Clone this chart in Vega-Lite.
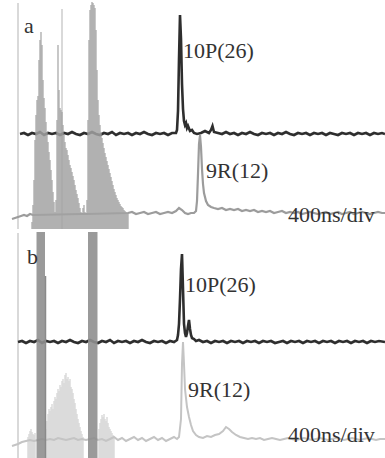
{
  "$schema": "https://vega.github.io/schema/vega-lite/v6.json",
  "background": "white",
  "padding": 0,
  "spacing": 0,
  "config": {"view": {"stroke": null}, "concat": {"spacing": 0}},
  "datasets": {
    "dark": [
      {"panel":"a","t":200,"v":95},{"panel":"a","t":240,"v":96},{"panel":"a","t":280,"v":94},{"panel":"a","t":320,"v":96},{"panel":"a","t":360,"v":95},{"panel":"a","t":400,"v":97},{"panel":"a","t":440,"v":94},{"panel":"a","t":480,"v":96},{"panel":"a","t":520,"v":95},{"panel":"a","t":560,"v":96},{"panel":"a","t":600,"v":94},{"panel":"a","t":640,"v":96},{"panel":"a","t":680,"v":95},{"panel":"a","t":720,"v":97},{"panel":"a","t":760,"v":95},{"panel":"a","t":800,"v":94},{"panel":"a","t":840,"v":96},{"panel":"a","t":880,"v":95},{"panel":"a","t":920,"v":97},{"panel":"a","t":960,"v":95},{"panel":"a","t":1000,"v":94},{"panel":"a","t":1040,"v":96},{"panel":"a","t":1080,"v":95},{"panel":"a","t":1120,"v":97},{"panel":"a","t":1160,"v":94},{"panel":"a","t":1200,"v":96},{"panel":"a","t":1240,"v":95},{"panel":"a","t":1280,"v":96},{"panel":"a","t":1320,"v":94},{"panel":"a","t":1360,"v":96},{"panel":"a","t":1400,"v":95},{"panel":"a","t":1440,"v":97},{"panel":"a","t":1480,"v":95},{"panel":"a","t":1520,"v":94},{"panel":"a","t":1560,"v":96},{"panel":"a","t":1600,"v":95},{"panel":"a","t":1640,"v":96},{"panel":"a","t":1680,"v":94},{"panel":"a","t":1720,"v":96},{"panel":"a","t":1760,"v":96},{"panel":"a","t":1770,"v":99},{"panel":"a","t":1780,"v":118},{"panel":"a","t":1790,"v":170},{"panel":"a","t":1800,"v":214},{"panel":"a","t":1810,"v":190},{"panel":"a","t":1820,"v":145},{"panel":"a","t":1830,"v":120},{"panel":"a","t":1840,"v":108},{"panel":"a","t":1850,"v":104},{"panel":"a","t":1860,"v":106},{"panel":"a","t":1870,"v":101},{"panel":"a","t":1880,"v":103},{"panel":"a","t":1900,"v":98},{"panel":"a","t":1920,"v":99},{"panel":"a","t":1940,"v":96},{"panel":"a","t":1970,"v":95},{"panel":"a","t":2010,"v":96},{"panel":"a","t":2050,"v":98},{"panel":"a","t":2090,"v":96},{"panel":"a","t":2110,"v":99},{"panel":"a","t":2125,"v":103},{"panel":"a","t":2140,"v":97},{"panel":"a","t":2180,"v":96},{"panel":"a","t":2220,"v":95},{"panel":"a","t":2260,"v":97},{"panel":"a","t":2300,"v":95},{"panel":"a","t":2340,"v":96},{"panel":"a","t":2380,"v":94},{"panel":"a","t":2420,"v":96},{"panel":"a","t":2460,"v":95},{"panel":"a","t":2500,"v":97},{"panel":"a","t":2540,"v":95},{"panel":"a","t":2580,"v":94},{"panel":"a","t":2620,"v":96},{"panel":"a","t":2660,"v":95},{"panel":"a","t":2700,"v":96},{"panel":"a","t":2740,"v":94},{"panel":"a","t":2780,"v":96},{"panel":"a","t":2820,"v":95},{"panel":"a","t":2860,"v":97},{"panel":"a","t":2900,"v":95},{"panel":"a","t":2940,"v":94},{"panel":"a","t":2980,"v":96},{"panel":"a","t":3020,"v":95},{"panel":"a","t":3060,"v":96},{"panel":"a","t":3100,"v":94},{"panel":"a","t":3140,"v":96},{"panel":"a","t":3180,"v":95},{"panel":"a","t":3220,"v":96},{"panel":"a","t":3260,"v":94},{"panel":"a","t":3300,"v":96},{"panel":"a","t":3340,"v":95},{"panel":"a","t":3380,"v":94},{"panel":"a","t":3420,"v":96},{"panel":"a","t":3460,"v":95},{"panel":"a","t":3500,"v":96},{"panel":"a","t":3540,"v":94},{"panel":"a","t":3580,"v":96},{"panel":"a","t":3620,"v":95},{"panel":"a","t":3660,"v":96},{"panel":"a","t":3700,"v":94},{"panel":"a","t":3740,"v":96},{"panel":"a","t":3780,"v":95},{"panel":"a","t":3820,"v":96},{"panel":"a","t":3850,"v":95},
      {"panel":"b","t":180,"v":117},{"panel":"b","t":220,"v":118},{"panel":"b","t":260,"v":116},{"panel":"b","t":300,"v":118},{"panel":"b","t":340,"v":117},{"panel":"b","t":380,"v":119},{"panel":"b","t":420,"v":116},{"panel":"b","t":460,"v":118},{"panel":"b","t":500,"v":117},{"panel":"b","t":540,"v":118},{"panel":"b","t":580,"v":116},{"panel":"b","t":620,"v":118},{"panel":"b","t":660,"v":117},{"panel":"b","t":700,"v":119},{"panel":"b","t":740,"v":117},{"panel":"b","t":780,"v":116},{"panel":"b","t":820,"v":118},{"panel":"b","t":860,"v":117},{"panel":"b","t":900,"v":119},{"panel":"b","t":940,"v":117},{"panel":"b","t":980,"v":116},{"panel":"b","t":1020,"v":118},{"panel":"b","t":1060,"v":117},{"panel":"b","t":1100,"v":119},{"panel":"b","t":1140,"v":116},{"panel":"b","t":1180,"v":118},{"panel":"b","t":1220,"v":117},{"panel":"b","t":1260,"v":118},{"panel":"b","t":1300,"v":116},{"panel":"b","t":1340,"v":118},{"panel":"b","t":1380,"v":117},{"panel":"b","t":1420,"v":119},{"panel":"b","t":1460,"v":117},{"panel":"b","t":1500,"v":116},{"panel":"b","t":1540,"v":118},{"panel":"b","t":1580,"v":117},{"panel":"b","t":1620,"v":118},{"panel":"b","t":1660,"v":116},{"panel":"b","t":1700,"v":118},{"panel":"b","t":1740,"v":117},{"panel":"b","t":1770,"v":119},{"panel":"b","t":1780,"v":124},{"panel":"b","t":1790,"v":135},{"panel":"b","t":1800,"v":160},{"panel":"b","t":1810,"v":190},{"panel":"b","t":1820,"v":205},{"panel":"b","t":1830,"v":170},{"panel":"b","t":1840,"v":135},{"panel":"b","t":1850,"v":126},{"panel":"b","t":1860,"v":122},{"panel":"b","t":1870,"v":126},{"panel":"b","t":1880,"v":133},{"panel":"b","t":1890,"v":139},{"panel":"b","t":1900,"v":130},{"panel":"b","t":1910,"v":124},{"panel":"b","t":1920,"v":121},{"panel":"b","t":1940,"v":120},{"panel":"b","t":1960,"v":118},{"panel":"b","t":1990,"v":119},{"panel":"b","t":2030,"v":117},{"panel":"b","t":2070,"v":118},{"panel":"b","t":2110,"v":116},{"panel":"b","t":2150,"v":118},{"panel":"b","t":2190,"v":117},{"panel":"b","t":2230,"v":118},{"panel":"b","t":2270,"v":116},{"panel":"b","t":2310,"v":118},{"panel":"b","t":2350,"v":117},{"panel":"b","t":2390,"v":118},{"panel":"b","t":2430,"v":116},{"panel":"b","t":2470,"v":118},{"panel":"b","t":2510,"v":117},{"panel":"b","t":2550,"v":118},{"panel":"b","t":2590,"v":116},{"panel":"b","t":2630,"v":118},{"panel":"b","t":2670,"v":117},{"panel":"b","t":2710,"v":118},{"panel":"b","t":2750,"v":116},{"panel":"b","t":2790,"v":117},{"panel":"b","t":2830,"v":118},{"panel":"b","t":2870,"v":116},{"panel":"b","t":2910,"v":118},{"panel":"b","t":2950,"v":117},{"panel":"b","t":2990,"v":118},{"panel":"b","t":3030,"v":116},{"panel":"b","t":3070,"v":118},{"panel":"b","t":3110,"v":117},{"panel":"b","t":3150,"v":118},{"panel":"b","t":3190,"v":116},{"panel":"b","t":3230,"v":118},{"panel":"b","t":3270,"v":117},{"panel":"b","t":3310,"v":118},{"panel":"b","t":3350,"v":116},{"panel":"b","t":3390,"v":118},{"panel":"b","t":3430,"v":117},{"panel":"b","t":3470,"v":118},{"panel":"b","t":3510,"v":116},{"panel":"b","t":3550,"v":118},{"panel":"b","t":3590,"v":117},{"panel":"b","t":3630,"v":118},{"panel":"b","t":3670,"v":116},{"panel":"b","t":3710,"v":118},{"panel":"b","t":3750,"v":117},{"panel":"b","t":3790,"v":118},{"panel":"b","t":3850,"v":117}
    ],
    "gray": [
      {"panel":"a","t":120,"v":10},{"panel":"a","t":150,"v":11},{"panel":"a","t":180,"v":12},{"panel":"a","t":210,"v":13},{"panel":"a","t":240,"v":14},{"panel":"a","t":270,"v":13},{"panel":"a","t":300,"v":15},{"panel":"a","t":330,"v":14},{"panel":"a","t":820,"v":15},{"panel":"a","t":860,"v":15},{"panel":"a","t":1280,"v":16},{"panel":"a","t":1320,"v":17},{"panel":"a","t":1360,"v":15},{"panel":"a","t":1400,"v":16},{"panel":"a","t":1440,"v":17},{"panel":"a","t":1480,"v":15},{"panel":"a","t":1520,"v":16},{"panel":"a","t":1560,"v":17},{"panel":"a","t":1600,"v":15},{"panel":"a","t":1640,"v":16},{"panel":"a","t":1680,"v":17},{"panel":"a","t":1720,"v":16},{"panel":"a","t":1760,"v":18},{"panel":"a","t":1790,"v":21},{"panel":"a","t":1820,"v":19},{"panel":"a","t":1850,"v":16},{"panel":"a","t":1880,"v":15},{"panel":"a","t":1910,"v":16},{"panel":"a","t":1940,"v":16},{"panel":"a","t":1960,"v":18},{"panel":"a","t":1970,"v":28},{"panel":"a","t":1980,"v":55},{"panel":"a","t":1990,"v":85},{"panel":"a","t":2000,"v":94},{"panel":"a","t":2010,"v":82},{"panel":"a","t":2020,"v":60},{"panel":"a","t":2030,"v":45},{"panel":"a","t":2040,"v":36},{"panel":"a","t":2060,"v":28},{"panel":"a","t":2080,"v":24},{"panel":"a","t":2110,"v":22},{"panel":"a","t":2140,"v":21},{"panel":"a","t":2180,"v":20},{"panel":"a","t":2220,"v":21},{"panel":"a","t":2260,"v":19},{"panel":"a","t":2300,"v":20},{"panel":"a","t":2340,"v":19},{"panel":"a","t":2380,"v":20},{"panel":"a","t":2420,"v":18},{"panel":"a","t":2460,"v":19},{"panel":"a","t":2500,"v":18},{"panel":"a","t":2540,"v":19},{"panel":"a","t":2580,"v":17},{"panel":"a","t":2620,"v":18},{"panel":"a","t":2660,"v":17},{"panel":"a","t":2700,"v":18},{"panel":"a","t":2740,"v":16},{"panel":"a","t":2780,"v":17},{"panel":"a","t":2820,"v":18},{"panel":"a","t":2860,"v":16},{"panel":"a","t":2900,"v":17},{"panel":"a","t":2940,"v":16},{"panel":"a","t":2980,"v":17},{"panel":"a","t":3020,"v":15},{"panel":"a","t":3060,"v":16},{"panel":"a","t":3100,"v":17},{"panel":"a","t":3140,"v":16},{"panel":"a","t":3180,"v":15},{"panel":"a","t":3220,"v":16},{"panel":"a","t":3260,"v":17},{"panel":"a","t":3300,"v":15},{"panel":"a","t":3340,"v":16},{"panel":"a","t":3380,"v":17},{"panel":"a","t":3420,"v":15},{"panel":"a","t":3460,"v":16},{"panel":"a","t":3500,"v":17},{"panel":"a","t":3540,"v":15},{"panel":"a","t":3580,"v":16},{"panel":"a","t":3620,"v":17},{"panel":"a","t":3660,"v":16},{"panel":"a","t":3700,"v":15},{"panel":"a","t":3740,"v":16},{"panel":"a","t":3780,"v":17},{"panel":"a","t":3820,"v":16},{"panel":"a","t":3850,"v":16},
      {"panel":"b","t":120,"v":13},{"panel":"b","t":150,"v":14},{"panel":"b","t":180,"v":15},{"panel":"b","t":220,"v":17},{"panel":"b","t":260,"v":18},{"panel":"b","t":300,"v":19},{"panel":"b","t":340,"v":18},{"panel":"b","t":380,"v":19},{"panel":"b","t":420,"v":20},{"panel":"b","t":460,"v":19},{"panel":"b","t":500,"v":20},{"panel":"b","t":540,"v":19},{"panel":"b","t":580,"v":21},{"panel":"b","t":620,"v":20},{"panel":"b","t":660,"v":19},{"panel":"b","t":700,"v":20},{"panel":"b","t":740,"v":21},{"panel":"b","t":780,"v":19},{"panel":"b","t":820,"v":20},{"panel":"b","t":860,"v":19},{"panel":"b","t":900,"v":20},{"panel":"b","t":940,"v":21},{"panel":"b","t":980,"v":19},{"panel":"b","t":1020,"v":20},{"panel":"b","t":1060,"v":18},{"panel":"b","t":1100,"v":20},{"panel":"b","t":1140,"v":22},{"panel":"b","t":1180,"v":19},{"panel":"b","t":1220,"v":21},{"panel":"b","t":1260,"v":18},{"panel":"b","t":1300,"v":20},{"panel":"b","t":1340,"v":22},{"panel":"b","t":1380,"v":19},{"panel":"b","t":1420,"v":21},{"panel":"b","t":1460,"v":18},{"panel":"b","t":1500,"v":20},{"panel":"b","t":1540,"v":22},{"panel":"b","t":1580,"v":19},{"panel":"b","t":1620,"v":21},{"panel":"b","t":1660,"v":18},{"panel":"b","t":1700,"v":20},{"panel":"b","t":1740,"v":22},{"panel":"b","t":1770,"v":20},{"panel":"b","t":1790,"v":22},{"panel":"b","t":1810,"v":40},{"panel":"b","t":1820,"v":95},{"panel":"b","t":1830,"v":117},{"panel":"b","t":1840,"v":95},{"panel":"b","t":1850,"v":70},{"panel":"b","t":1870,"v":52},{"panel":"b","t":1890,"v":42},{"panel":"b","t":1910,"v":34},{"panel":"b","t":1930,"v":28},{"panel":"b","t":1960,"v":24},{"panel":"b","t":1990,"v":22},{"panel":"b","t":2030,"v":21},{"panel":"b","t":2070,"v":23},{"panel":"b","t":2110,"v":22},{"panel":"b","t":2150,"v":24},{"panel":"b","t":2190,"v":25},{"panel":"b","t":2230,"v":28},{"panel":"b","t":2260,"v":32},{"panel":"b","t":2290,"v":30},{"panel":"b","t":2320,"v":27},{"panel":"b","t":2360,"v":24},{"panel":"b","t":2400,"v":22},{"panel":"b","t":2440,"v":21},{"panel":"b","t":2480,"v":20},{"panel":"b","t":2520,"v":21},{"panel":"b","t":2560,"v":20},{"panel":"b","t":2600,"v":21},{"panel":"b","t":2640,"v":19},{"panel":"b","t":2680,"v":20},{"panel":"b","t":2720,"v":21},{"panel":"b","t":2760,"v":20},{"panel":"b","t":2800,"v":19},{"panel":"b","t":2840,"v":20},{"panel":"b","t":2880,"v":21},{"panel":"b","t":2920,"v":20},{"panel":"b","t":2960,"v":19},{"panel":"b","t":3000,"v":20},{"panel":"b","t":3040,"v":21},{"panel":"b","t":3080,"v":20},{"panel":"b","t":3120,"v":19},{"panel":"b","t":3160,"v":20},{"panel":"b","t":3200,"v":21},{"panel":"b","t":3240,"v":20},{"panel":"b","t":3280,"v":19},{"panel":"b","t":3320,"v":20},{"panel":"b","t":3360,"v":21},{"panel":"b","t":3400,"v":20},{"panel":"b","t":3440,"v":19},{"panel":"b","t":3480,"v":20},{"panel":"b","t":3520,"v":21},{"panel":"b","t":3560,"v":20},{"panel":"b","t":3600,"v":19},{"panel":"b","t":3640,"v":20},{"panel":"b","t":3680,"v":21},{"panel":"b","t":3720,"v":20},{"panel":"b","t":3760,"v":19},{"panel":"b","t":3800,"v":20},{"panel":"b","t":3850,"v":20}
    ],
    "comb": [
      {"panel":"a","t":320,"v":7},{"panel":"a","t":330,"v":24},{"panel":"a","t":340,"v":49},{"panel":"a","t":350,"v":89},{"panel":"a","t":360,"v":114},{"panel":"a","t":370,"v":129},{"panel":"a","t":380,"v":133},{"panel":"a","t":390,"v":169},{"panel":"a","t":400,"v":189},{"panel":"a","t":410,"v":197},{"panel":"a","t":420,"v":184},{"panel":"a","t":430,"v":149},{"panel":"a","t":440,"v":131},{"panel":"a","t":450,"v":121},{"panel":"a","t":460,"v":107},{"panel":"a","t":470,"v":97},{"panel":"a","t":480,"v":87},{"panel":"a","t":490,"v":77},{"panel":"a","t":500,"v":69},{"panel":"a","t":510,"v":59},{"panel":"a","t":520,"v":49},{"panel":"a","t":530,"v":37},{"panel":"a","t":540,"v":27},{"panel":"a","t":550,"v":17},{"panel":"a","t":560,"v":29},{"panel":"a","t":570,"v":109},{"panel":"a","t":580,"v":184},{"panel":"a","t":590,"v":139},{"panel":"a","t":600,"v":121},{"panel":"a","t":610,"v":119},{"panel":"a","t":620,"v":117},{"panel":"a","t":630,"v":104},{"panel":"a","t":640,"v":94},{"panel":"a","t":650,"v":87},{"panel":"a","t":660,"v":81},{"panel":"a","t":670,"v":79},{"panel":"a","t":680,"v":74},{"panel":"a","t":690,"v":69},{"panel":"a","t":700,"v":64},{"panel":"a","t":710,"v":61},{"panel":"a","t":720,"v":57},{"panel":"a","t":730,"v":53},{"panel":"a","t":740,"v":49},{"panel":"a","t":750,"v":44},{"panel":"a","t":760,"v":39},{"panel":"a","t":770,"v":35},{"panel":"a","t":780,"v":31},{"panel":"a","t":790,"v":26},{"panel":"a","t":800,"v":21},{"panel":"a","t":810,"v":17},{"panel":"a","t":820,"v":15},{"panel":"a","t":830,"v":21},{"panel":"a","t":840,"v":24},{"panel":"a","t":850,"v":17},{"panel":"a","t":860,"v":15},{"panel":"a","t":870,"v":29},{"panel":"a","t":880,"v":109},{"panel":"a","t":890,"v":189},{"panel":"a","t":900,"v":219},{"panel":"a","t":910,"v":224},{"panel":"a","t":920,"v":227},{"panel":"a","t":930,"v":226},{"panel":"a","t":940,"v":224},{"panel":"a","t":950,"v":221},{"panel":"a","t":960,"v":199},{"panel":"a","t":970,"v":159},{"panel":"a","t":980,"v":129},{"panel":"a","t":990,"v":114},{"panel":"a","t":1000,"v":104},{"panel":"a","t":1010,"v":97},{"panel":"a","t":1020,"v":91},{"panel":"a","t":1030,"v":86},{"panel":"a","t":1040,"v":81},{"panel":"a","t":1050,"v":76},{"panel":"a","t":1060,"v":72},{"panel":"a","t":1070,"v":68},{"panel":"a","t":1080,"v":64},{"panel":"a","t":1090,"v":60},{"panel":"a","t":1100,"v":56},{"panel":"a","t":1110,"v":52},{"panel":"a","t":1120,"v":48},{"panel":"a","t":1130,"v":44},{"panel":"a","t":1140,"v":40},{"panel":"a","t":1150,"v":37},{"panel":"a","t":1160,"v":34},{"panel":"a","t":1170,"v":31},{"panel":"a","t":1180,"v":29},{"panel":"a","t":1190,"v":27},{"panel":"a","t":1200,"v":25},{"panel":"a","t":1210,"v":23},{"panel":"a","t":1220,"v":22},{"panel":"a","t":1230,"v":21},{"panel":"a","t":1240,"v":19},{"panel":"a","t":1250,"v":18},{"panel":"a","t":1260,"v":17},{"panel":"a","t":1270,"v":16},{"panel":"a","t":1280,"v":15},
      {"panel":"b","t":280,"v":22},{"panel":"b","t":290,"v":25},{"panel":"b","t":300,"v":28},{"panel":"b","t":310,"v":30},{"panel":"b","t":320,"v":27},{"panel":"b","t":330,"v":25},{"panel":"b","t":340,"v":24},{"panel":"b","t":350,"v":26},{"panel":"b","t":460,"v":30},{"panel":"b","t":470,"v":38},{"panel":"b","t":480,"v":45},{"panel":"b","t":490,"v":50},{"panel":"b","t":500,"v":48},{"panel":"b","t":510,"v":52},{"panel":"b","t":520,"v":55},{"panel":"b","t":530,"v":50},{"panel":"b","t":540,"v":58},{"panel":"b","t":550,"v":62},{"panel":"b","t":560,"v":60},{"panel":"b","t":570,"v":66},{"panel":"b","t":580,"v":70},{"panel":"b","t":590,"v":68},{"panel":"b","t":600,"v":74},{"panel":"b","t":610,"v":72},{"panel":"b","t":620,"v":78},{"panel":"b","t":630,"v":80},{"panel":"b","t":640,"v":76},{"panel":"b","t":650,"v":84},{"panel":"b","t":660,"v":86},{"panel":"b","t":670,"v":80},{"panel":"b","t":680,"v":82},{"panel":"b","t":690,"v":78},{"panel":"b","t":700,"v":80},{"panel":"b","t":710,"v":72},{"panel":"b","t":720,"v":70},{"panel":"b","t":730,"v":66},{"panel":"b","t":740,"v":60},{"panel":"b","t":750,"v":56},{"panel":"b","t":760,"v":50},{"panel":"b","t":770,"v":45},{"panel":"b","t":780,"v":40},{"panel":"b","t":790,"v":36},{"panel":"b","t":800,"v":32},{"panel":"b","t":810,"v":28},{"panel":"b","t":820,"v":25},{"panel":"b","t":830,"v":22},{"panel":"b","t":990,"v":30},{"panel":"b","t":1000,"v":36},{"panel":"b","t":1010,"v":40},{"panel":"b","t":1020,"v":44},{"panel":"b","t":1030,"v":42},{"panel":"b","t":1040,"v":45},{"panel":"b","t":1050,"v":40},{"panel":"b","t":1060,"v":38},{"panel":"b","t":1070,"v":42},{"panel":"b","t":1080,"v":36},{"panel":"b","t":1090,"v":32},{"panel":"b","t":1100,"v":30},{"panel":"b","t":1110,"v":28},{"panel":"b","t":1120,"v":26},{"panel":"b","t":1130,"v":24},{"panel":"b","t":1140,"v":22}
    ],
    "guides": [
      {"panel":"a","kind":"light","t":180,"v":226},{"panel":"a","kind":"light","t":620,"v":220},
      {"panel":"b","kind":"light","t":180,"v":226},{"panel":"b","kind":"dark","t":455,"v":183}
    ],
    "bands": [
      {"panel":"b","t0":365,"t1":450},{"panel":"b","t0":880,"t1":975}
    ],
    "labels": [
      {"panel":"a","t":240,"v":196,"label":"a"},
      {"panel":"a","t":1830,"v":171,"label":"10P(26)"},
      {"panel":"a","t":2060,"v":51,"label":"9R(12)"},
      {"panel":"a","t":2880,"v":7,"label":"400ns/div"},
      {"panel":"b","t":270,"v":195,"label":"b"},
      {"panel":"b","t":1850,"v":167,"label":"10P(26)"},
      {"panel":"b","t":1880,"v":62,"label":"9R(12)"},
      {"panel":"b","t":2880,"v":17,"label":"400ns/div"}
    ]
  },
  "vconcat": [
    {
      "width": 385, "height": 229,
      "layer": [
        {"data": {"name": "guides"}, "transform": [{"filter": "datum.panel == 'a' && datum.kind == 'light'"}],
         "mark": {"type": "rule", "color": "#cccccc", "strokeWidth": 1.5},
         "encoding": {"x": {"field": "t", "type": "quantitative", "scale": {"domain": [0, 3850], "nice": false, "zero": false}, "axis": null},
                      "y": {"field": "v", "type": "quantitative", "scale": {"domain": [0, 229], "nice": false}, "axis": null},
                      "y2": {"datum": 0}}},
        {"data": {"name": "dark"}, "transform": [{"filter": "datum.panel == 'a'"}],
         "mark": {"type": "line", "color": "#2e2e2e", "strokeWidth": 2.6},
         "encoding": {"x": {"field": "t", "type": "quantitative", "scale": {"domain": [0, 3850], "nice": false, "zero": false}, "axis": null},
                      "y": {"field": "v", "type": "quantitative", "scale": {"domain": [0, 229], "nice": false}, "axis": null}}},
        {"data": {"name": "gray"}, "transform": [{"filter": "datum.panel == 'a'"}],
         "mark": {"type": "line", "color": "#9c9c9c", "strokeWidth": 2.2},
         "encoding": {"x": {"field": "t", "type": "quantitative", "scale": {"domain": [0, 3850], "nice": false, "zero": false}, "axis": null},
                      "y": {"field": "v", "type": "quantitative", "scale": {"domain": [0, 229], "nice": false}, "axis": null}}},
        {"data": {"name": "comb"}, "transform": [{"filter": "datum.panel == 'a'"}],
         "mark": {"type": "rule", "color": "#a3a3a3", "strokeWidth": 1.3, "opacity": 0.92},
         "encoding": {"x": {"field": "t", "type": "quantitative", "scale": {"domain": [0, 3850], "nice": false, "zero": false}, "axis": null},
                      "y": {"field": "v", "type": "quantitative", "scale": {"domain": [0, 229], "nice": false}, "axis": null},
                      "y2": {"datum": 0}}},
        {"data": {"name": "labels"}, "transform": [{"filter": "datum.panel == 'a'"}],
         "mark": {"type": "text", "font": "serif", "fontSize": 22, "align": "left", "baseline": "alphabetic", "color": "#333333"},
         "encoding": {"x": {"field": "t", "type": "quantitative", "scale": {"domain": [0, 3850], "nice": false, "zero": false}, "axis": null},
                      "y": {"field": "v", "type": "quantitative", "scale": {"domain": [0, 229], "nice": false}, "axis": null},
                      "text": {"field": "label"}}}
      ]
    },
    {
      "width": 385, "height": 229,
      "layer": [
        {"data": {"name": "guides"}, "transform": [{"filter": "datum.panel == 'b' && datum.kind == 'light'"}],
         "mark": {"type": "rule", "color": "#cccccc", "strokeWidth": 1.5},
         "encoding": {"x": {"field": "t", "type": "quantitative", "scale": {"domain": [0, 3850], "nice": false, "zero": false}, "axis": null},
                      "y": {"field": "v", "type": "quantitative", "scale": {"domain": [0, 229], "nice": false}, "axis": null},
                      "y2": {"datum": 0}}},
        {"data": {"name": "comb"}, "transform": [{"filter": "datum.panel == 'b'"}],
         "mark": {"type": "rule", "color": "#d6d6d6", "strokeWidth": 1.3},
         "encoding": {"x": {"field": "t", "type": "quantitative", "scale": {"domain": [0, 3850], "nice": false, "zero": false}, "axis": null},
                      "y": {"field": "v", "type": "quantitative", "scale": {"domain": [0, 229], "nice": false}, "axis": null},
                      "y2": {"datum": 0}}},
        {"data": {"name": "gray"}, "transform": [{"filter": "datum.panel == 'b'"}],
         "mark": {"type": "line", "color": "#c4c4c4", "strokeWidth": 2},
         "encoding": {"x": {"field": "t", "type": "quantitative", "scale": {"domain": [0, 3850], "nice": false, "zero": false}, "axis": null},
                      "y": {"field": "v", "type": "quantitative", "scale": {"domain": [0, 229], "nice": false}, "axis": null}}},
        {"data": {"name": "dark"}, "transform": [{"filter": "datum.panel == 'b'"}],
         "mark": {"type": "line", "color": "#2e2e2e", "strokeWidth": 2.6},
         "encoding": {"x": {"field": "t", "type": "quantitative", "scale": {"domain": [0, 3850], "nice": false, "zero": false}, "axis": null},
                      "y": {"field": "v", "type": "quantitative", "scale": {"domain": [0, 229], "nice": false}, "axis": null}}},
        {"data": {"name": "bands"}, "transform": [{"filter": "datum.panel == 'b'"}],
         "mark": {"type": "rect", "color": "#8f8f8f", "opacity": 0.9},
         "encoding": {"x": {"field": "t0", "type": "quantitative", "scale": {"domain": [0, 3850], "nice": false, "zero": false}, "axis": null},
                      "x2": {"field": "t1"},
                      "y": {"datum": 227, "type": "quantitative", "scale": {"domain": [0, 229], "nice": false}, "axis": null},
                      "y2": {"datum": 0}}},
        {"data": {"name": "guides"}, "transform": [{"filter": "datum.panel == 'b' && datum.kind == 'dark'"}],
         "mark": {"type": "rule", "color": "#8a8a8a", "strokeWidth": 1.5},
         "encoding": {"x": {"field": "t", "type": "quantitative", "scale": {"domain": [0, 3850], "nice": false, "zero": false}, "axis": null},
                      "y": {"field": "v", "type": "quantitative", "scale": {"domain": [0, 229], "nice": false}, "axis": null},
                      "y2": {"datum": 0}}},
        {"data": {"name": "labels"}, "transform": [{"filter": "datum.panel == 'b'"}],
         "mark": {"type": "text", "font": "serif", "fontSize": 22, "align": "left", "baseline": "alphabetic", "color": "#333333"},
         "encoding": {"x": {"field": "t", "type": "quantitative", "scale": {"domain": [0, 3850], "nice": false, "zero": false}, "axis": null},
                      "y": {"field": "v", "type": "quantitative", "scale": {"domain": [0, 229], "nice": false}, "axis": null},
                      "text": {"field": "label"}}}
      ]
    }
  ]
}
